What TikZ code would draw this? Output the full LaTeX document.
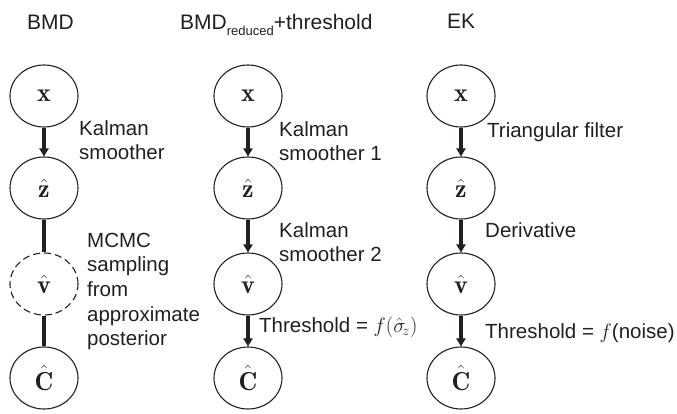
\documentclass[tikz,border=0pt]{standalone}
\usepackage{fontspec}
\newfontfamily\helv{Liberation Sans}
\usetikzlibrary{arrows.meta,shapes.geometric}
\definecolor{ink}{RGB}{35,31,32}
\begin{document}
\begin{tikzpicture}[x=1pt,y=-1pt,
  state/.style={ellipse, draw=ink, line width=1.1pt, minimum width=68pt, minimum height=62pt, inner sep=0pt, text=ink, font=\fontsize{26}{30}\selectfont},
  dstate/.style={state, dash pattern=on 7pt off 4pt},
  conn/.style={draw=ink, line width=3.5pt},
  arr/.style={conn, -{Triangle[length=8pt,width=9pt]}},
  lbl/.style={anchor=north west, inner sep=0pt, align=left, text=ink, font=\helv\fontsize{20.5}{23.5}\selectfont},
  blbl/.style={anchor=base west, inner sep=0pt, text=ink, font=\helv\fontsize{20.5}{23.5}\selectfont},
  ttl/.style={anchor=base west, inner sep=0pt, text=ink, font=\helv\fontsize{21}{25}\selectfont}]
\useasboundingbox (0,0) rectangle (677,414);

% titles
\node[ttl] (t1) at (27,30) {BMD};
\node[ttl] (t2) at (180,30) {BMD\raisebox{-6pt}{\fontsize{13}{15}\selectfont reduced}+threshold};
\node[ttl] (t3) at (447,29) {EK};

% column 1
\node[state]  (x1) at (44,96)  {$\mathbf{x}$};
\node[state]  (z1) at (44,188) {$\hat{\mathbf{z}}$};
\node[dstate] (v1) at (44,284) {$\hat{\mathbf{v}}$};
\node[state]  (c1) at (44,378) {$\hat{\mathbf{C}}$};
\draw[arr]  (x1) -- (z1);
\draw[conn] (z1) -- (v1);
\draw[conn] (v1) -- (c1);
\node[lbl] (l1) at (79,120.5) {Kalman\\smoother};
\node[lbl, font=\helv\fontsize{20.5}{24.7}\selectfont] (l2) at (87,232.5) {MCMC\\sampling\\from\\approximate\\posterior};

% column 2
\node[state] (x2) at (248,96)  {$\mathbf{x}$};
\node[state] (z2) at (248,188) {$\hat{\mathbf{z}}$};
\node[state] (v2) at (248,284) {$\hat{\mathbf{v}}$};
\node[state] (c2) at (248,378) {$\hat{\mathbf{C}}$};
\draw[arr] (x2) -- (z2);
\draw[arr] (z2) -- (v2);
\draw[arr] (v2) -- (c2);
\node[lbl] (l3) at (279,121.5) {Kalman\\smoother 1};
\node[lbl] (l4) at (279,222.5) {Kalman\\smoother 2};
\node[blbl] (l5) at (259,332) {Threshold = $f(\hat{\sigma}_{\!z})$};

% column 3
\node[state] (x3) at (461,96)  {$\mathbf{x}$};
\node[state] (z3) at (461,188) {$\hat{\mathbf{z}}$};
\node[state] (v3) at (461,284) {$\hat{\mathbf{v}}$};
\node[state] (c3) at (461,378) {$\hat{\mathbf{C}}$};
\draw[arr] (x3) -- (z3);
\draw[arr] (z3) -- (v3);
\draw[arr] (v3) -- (c3);
\node[blbl] (l6) at (487,138) {Triangular filter};
\node[blbl] (l7) at (485,237) {Derivative};
\node[blbl] (l8) at (485,338) {Threshold = $f$(noise)};
\end{tikzpicture}
\end{document}
